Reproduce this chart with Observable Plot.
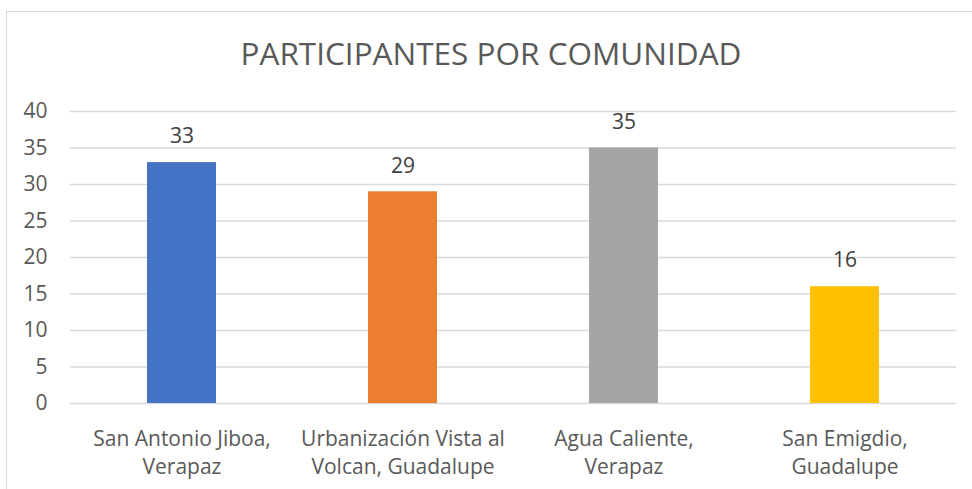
<!DOCTYPE html>
<html>
<head>
<meta charset="utf-8">
<script src="https://cdn.jsdelivr.net/npm/d3@7"></script>
<script src="https://cdn.jsdelivr.net/npm/@observablehq/plot@0.6"></script>
<style>
  html, body { margin: 0; padding: 0; background: #fff; overflow: hidden; }
  #wrap { position: relative; width: 972px; height: 489px; overflow: hidden; font-family: "Open Sans", Lato, sans-serif; }
  #frame { position: absolute; left: 6px; top: 11px; width: 990px; height: 520px; border: 1.5px solid #d9d9d9; box-sizing: border-box; pointer-events: none; }
  #title { position: relative; height: 100px; width: 972px; }
  #title span { position: absolute; left: 0; width: 982px; text-align: center; top: 33px; font-family: "Open Sans", sans-serif; font-size: 31.5px; color: #595959; line-height: 1.3; }
</style>
</head>
<body>
<div id="wrap">
  <div id="frame"></div>
  <div id="title"><span>PARTICIPANTES POR COMUNIDAD</span></div>
  <div id="chart"></div>
</div>
<script>
const categories = [
  "San Antonio Jiboa,\nVerapaz",
  "Urbanización Vista al\nVolcan, Guadalupe",
  "Agua Caliente,\nVerapaz",
  "San Emigdio,\nGuadalupe"
];
const values = [33, 29, 35, 16];
const colors = ["#4472C4", "#ED7D31", "#A5A5A5", "#FFC000"];
const yTicks = [0, 5, 10, 15, 20, 25, 30, 35, 40];

const data = categories.map((c, i) => ({category: c, value: values[i], color: colors[i]}));

const chart = Plot.plot({
  width: 972,
  height: 389,
  marginTop: 11,
  marginBottom: 86,
  marginLeft: 70,
  marginRight: 16,
  style: {fontFamily: "'Open Sans', Lato, sans-serif", fontSize: "21px", background: "transparent", overflow: "visible"},
  x: {domain: categories, paddingInner: 0.69, paddingOuter: 0.345, label: null},
  y: {domain: [0, 40], label: null},
  marks: [
    Plot.ruleY(yTicks, {stroke: "#d9d9d9", strokeWidth: 1.5}),
    Plot.axisY({ticks: yTicks, tickSize: 0, tickPadding: 23, label: null, color: "#595959", fontSize: 21}),
    Plot.axisX({tickSize: 0, tickPadding: 23, label: null, color: "#595959", fontSize: 21, lineHeight: 1.33}),
    Plot.barY(data, {x: "category", y: "value", fill: "color"}),
    Plot.text(data, {x: "category", y: "value", text: d => String(d.value), dy: -26, fill: "#404040", fontSize: 21})
  ]
});
document.getElementById("chart").appendChild(chart);
</script>
</body>
</html>
